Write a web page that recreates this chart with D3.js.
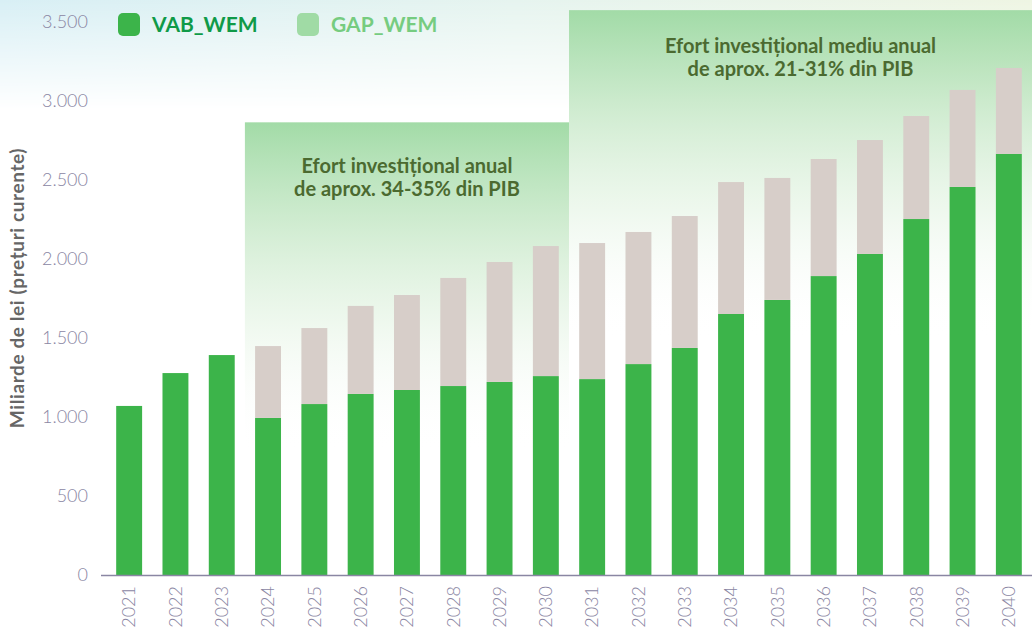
<!DOCTYPE html>
<html><head><meta charset="utf-8">
<script src="https://cdn.jsdelivr.net/npm/d3@7"></script>
<style>html,body{margin:0;padding:0;background:#fff;}svg{display:block;}</style>
</head><body>
<script>
const years = ["2021","2022","2023","2024","2025","2026","2027","2028","2029","2030","2031","2032","2033","2034","2035","2036","2037","2038","2039","2040"];
const vab = [1070,1278,1392,994,1082,1146,1171,1196,1222,1259,1240,1335,1437,1652,1741,1892,2032,2253,2456,2665];
const total = [1070,1278,1392,1449,1563,1703,1772,1880,1981,2082,2101,2171,2272,2487,2513,2633,2753,2905,3070,3209];
const gap = total.map((t,i)=>t - vab[i]);
const yTicks = [0,500,1000,1500,2000,2500,3000,3500];
const seriesNames = ["VAB_WEM","GAP_WEM"];
const annotations = [
  {from:"2024", to:"2030", top:2865, lines:["Efort investițional anual","de aprox. 34-35% din PIB"]},
  {from:"2031", to:"2040", top:3575, lines:["Efort investițional mediu anual","de aprox. 21-31% din PIB"]}
];

const W=1032,H=632;
const svg=d3.select("body").append("svg").attr("width",W).attr("height",H);
const defs=svg.append("defs");

// background
const bgH=defs.append("linearGradient").attr("id","bgH").attr("x1",0).attr("x2",1).attr("y1",0).attr("y2",0);
bgH.append("stop").attr("offset",0).attr("stop-color","#d8eff5");
bgH.append("stop").attr("offset",0.5).attr("stop-color","#e6f4ef");
bgH.append("stop").attr("offset",1).attr("stop-color","#eef5e3");
const bgV=defs.append("linearGradient").attr("id","bgV").attr("x1",0).attr("x2",0).attr("y1",0).attr("y2",1);
bgV.append("stop").attr("offset",0).attr("stop-color","#fff").attr("stop-opacity",1);
bgV.append("stop").attr("offset",1).attr("stop-color","#fff").attr("stop-opacity",0);
const mask=defs.append("mask").attr("id","bgMask");
mask.append("rect").attr("width",W).attr("height",110).attr("fill","url(#bgV)");
svg.append("rect").attr("width",W).attr("height",110).attr("fill","url(#bgH)").attr("mask","url(#bgMask)");

const x=d3.scaleBand().domain(years).range([106,1032]).paddingInner(0.44).paddingOuter(0.22);
const y=d3.scaleLinear().domain([0,3500]).range([575,22]);

// annotation boxes
const textOffsets=[51,43];
annotations.forEach((a,i)=>{
  const x0 = x(a.from) - x.step()*x.paddingInner()/2;
  const x1 = Math.min(W, x(a.to) + x.bandwidth() + x.step()*x.paddingInner()/2);
  const gid="ag"+i;
  const top=y(a.top), bot=y(0);
  const g=defs.append("linearGradient").attr("id",gid).attr("gradientUnits","userSpaceOnUse")
    .attr("x1",0).attr("x2",0).attr("y1",top).attr("y2",top+330);
  g.append("stop").attr("offset",0).attr("stop-color","#a2dba7").attr("stop-opacity",1);
  g.append("stop").attr("offset",0.3).attr("stop-color","#bfe5c0").attr("stop-opacity",0.75);
  g.append("stop").attr("offset",0.6).attr("stop-color","#d9efd8").attr("stop-opacity",0.45);
  g.append("stop").attr("offset",1).attr("stop-color","#ffffff").attr("stop-opacity",0);
  svg.append("rect").attr("x",x0).attr("y",top).attr("width",x1-x0).attr("height",bot-top).attr("fill","url(#"+gid+")");
  const cx=(x0+x1)/2;
  const t=svg.append("text").attr("text-anchor","middle").attr("font-family","Lato, sans-serif")
    .attr("font-weight",700).attr("font-size",20).attr("fill","#4b6a30");
  a.lines.forEach((l,j)=>t.append("tspan").attr("x",cx).attr("y",top+textOffsets[i]+j*23).text(l));
});

// bars
const stackData = years.map((yr,i)=>({year:yr, VAB_WEM:vab[i], GAP_WEM:gap[i]}));
const stack=d3.stack().keys(seriesNames)(stackData);
const colors={VAB_WEM:"#3cb44a",GAP_WEM:"#d7cec9"};
svg.append("g").selectAll("g").data(stack).join("g").attr("fill",d=>colors[d.key])
  .selectAll("rect").data(d=>d).join("rect")
  .attr("x",d=>x(d.data.year)).attr("width",x.bandwidth())
  .attr("y",d=>y(d[1])).attr("height",d=>Math.max(0,y(d[0])-y(d[1])));

// y axis
const fmt = v => v>=1000 ? d3.format(",")(v).replace(/,/g,".") : String(v);
const yAx=svg.append("g").attr("transform","translate(88,0)")
  .call(d3.axisLeft(y).tickValues(yTicks).tickSize(0).tickPadding(0).tickFormat(fmt));
yAx.select(".domain").remove();
yAx.selectAll("text").attr("font-family","Lato, sans-serif").attr("font-weight",300)
  .attr("font-size",18).attr("fill","#8a86a3");

// x axis
const xAx=svg.append("g").attr("transform","translate(0,575)")
  .call(d3.axisBottom(x).tickSize(0).tickPadding(0));
xAx.select(".domain").remove();
svg.append("line").attr("x1",101).attr("x2",W).attr("y1",575.5).attr("y2",575.5)
  .attr("stroke","#8a86a3").attr("stroke-width",1.5);
xAx.selectAll("text").attr("font-family","Lato, sans-serif").attr("font-weight",300)
  .attr("font-size",18).attr("fill","#8a86a3")
  .attr("transform","rotate(-90)").attr("text-anchor","end")
  .attr("x",-11).attr("y",0).attr("dy","0.35em");

// y title
svg.append("text").attr("transform","translate(24,288) rotate(-90)").attr("text-anchor","middle")
  .attr("font-family","Lato, sans-serif").attr("font-weight",700).attr("font-size",19)
  .attr("letter-spacing",0.6).attr("fill","#666").text("Miliarde de lei (prețuri curente)");

// legend
const legend=[{name:seriesNames[0],sw:"#3cb44a",tc:"#0f9a48",x:118},{name:seriesNames[1],sw:"#a0dba5",tc:"#76cc80",x:297}];
legend.forEach(l=>{
  svg.append("rect").attr("x",l.x).attr("y",13).attr("width",22).attr("height",23).attr("rx",5).attr("fill",l.sw);
  svg.append("text").attr("x",l.x+34).attr("y",32).attr("font-family","Lato, sans-serif").attr("font-weight",700)
    .attr("font-size",21).attr("fill",l.tc).text(l.name);
});
</script>
</body></html>
